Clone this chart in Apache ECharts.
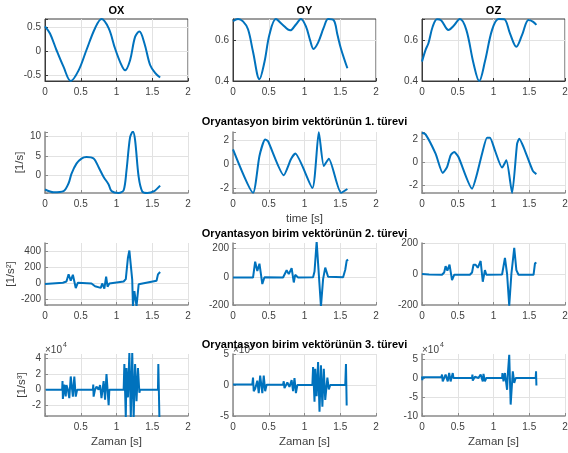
<!DOCTYPE html>
<html>
<head>
<meta charset="utf-8">
<script src="https://cdn.jsdelivr.net/npm/echarts/dist/echarts.min.js"></script>
<style>
  html, body { margin: 0; padding: 0; background: #fff; }
  #chart { width: 568px; height: 453px; }
</style>
</head>
<body>
<div id="chart"></div>
<script>
// birim vektör bileşenleri (t [s], değer)
const oxPos = [[0,0.52],[0.07,0.37],[0.16,0.03],[0.26,-0.32],[0.36,-0.61],[0.47,-0.39],[0.58,0.03],[0.70,0.48],[0.79,0.67],[0.89,0.48],[0.98,0.06],[1.06,-0.25],[1.12,-0.39],[1.19,-0.18],[1.26,0.30],[1.32,0.41],[1.39,0.17],[1.47,-0.28],[1.54,-0.44],[1.61,-0.54]];
const oyPos = [[0,0.696],[0.07,0.707],[0.14,0.695],[0.21,0.656],[0.28,0.545],[0.37,0.409],[0.44,0.494],[0.51,0.63],[0.60,0.707],[0.69,0.68],[0.80,0.651],[0.88,0.68],[0.95,0.707],[1.02,0.67],[1.08,0.60],[1.125,0.559],[1.19,0.59],[1.27,0.665],[1.33,0.707],[1.41,0.70],[1.46,0.63],[1.51,0.56],[1.60,0.463]];
const ozPos = [[0,0.496],[0.05,0.554],[0.09,0.587],[0.15,0.67],[0.21,0.706],[0.27,0.70],[0.37,0.653],[0.44,0.672],[0.53,0.707],[0.62,0.653],[0.72,0.488],[0.80,0.40],[0.88,0.496],[0.98,0.653],[1.07,0.707],[1.15,0.706],[1.23,0.636],[1.32,0.57],[1.40,0.628],[1.49,0.702],[1.55,0.694],[1.60,0.678]];

// 1. türev [1/s]
const ox1 = [[0,-3.6],[0.12,-4.3],[0.26,-4.0],[0.33,-2],[0.37,0.4],[0.44,3],[0.51,4.3],[0.58,4.7],[0.68,4.3],[0.75,2.1],[0.82,-0.4],[0.89,-2.3],[0.93,-4],[1.03,-4.5],[1.10,-3.8],[1.14,1.3],[1.19,9.8],[1.23,11.2],[1.26,9],[1.31,-0.4],[1.36,-4.1],[1.43,-4.5],[1.52,-4.1],[1.61,-2.6]];
const oy1 = [[0,1.25],[0.28,-2.4],[0.37,0.7],[0.45,2.08],[0.49,1.94],[0.71,-0.92],[0.81,0.42],[0.87,0.9],[1.11,-2.0],[1.20,2.7],[1.27,-0.14],[1.34,0.47],[1.51,-2.4],[1.60,-2.08]];
const oz1 = [[0,2.6],[0.05,2.46],[0.19,0.78],[0.29,-0.9],[0.35,-0.38],[0.40,0.64],[0.45,0.93],[0.51,0.49],[0.70,-2.26],[0.77,-0.96],[0.84,0.78],[0.91,2.17],[0.95,2.17],[1.02,1.07],[1.12,-0.43],[1.18,0.2],[1.26,-2.64],[1.33,1.65],[1.36,2.09],[1.42,1.36],[1.55,-0.72],[1.60,-1.0]];

// 2. türev [1/s^2]
const ox2 = [[0,-10],[0.25,5],[0.30,20],[0.33,112],[0.36,30],[0.39,105],[0.43,-62],[0.46,5],[0.65,-5],[0.70,-40],[0.72,-60],[0.78,-60],[0.80,-5],[0.83,-70],[0.855,80],[0.875,-45],[0.90,-5],[1.10,20],[1.13,50],[1.16,320],[1.18,410],[1.20,400],[1.22,40],[1.23,-290],[1.25,-100],[1.28,-290],[1.31,-15],[1.56,30],[1.58,110],[1.61,140]];
const oy2 = [[0,-5],[0.28,-5],[0.31,107],[0.34,42],[0.37,93],[0.41,-51],[0.44,-3],[0.70,-5],[0.75,47],[0.78,19],[0.82,61],[0.85,-40],[0.87,14],[0.91,-5],[1.12,-3],[1.14,37],[1.17,250],[1.20,19],[1.23,-210],[1.26,-16],[1.29,65],[1.33,0],[1.54,-3],[1.57,50],[1.59,115],[1.61,122]];
const oz2 = [[0,0],[0.1,-3],[0.28,-5],[0.31,10],[0.33,50],[0.355,22],[0.385,60],[0.42,-40],[0.45,-5],[0.67,-5],[0.70,10],[0.72,60],[0.75,60],[0.78,40],[0.82,84],[0.85,-50],[0.88,25],[0.90,-5],[1.12,-3],[1.16,104],[1.19,0],[1.22,-205],[1.25,0],[1.29,168],[1.32,25],[1.35,-5],[1.56,-5],[1.58,68],[1.60,74]];

// 3. türev [1/s^3], x10^4
const ox3 = [[0.01,0],[0.24,0],[0.245,1.1],[0.25,-1.2],[0.27,0.65],[0.29,-0.87],[0.30,0.6],[0.32,0],[0.34,-1.1],[0.36,1.7],[0.39,-0.9],[0.41,1.7],[0.43,-0.9],[0.45,0],[0.67,0],[0.675,0.65],[0.68,-0.9],[0.70,0],[0.72,0.4],[0.75,0],[0.77,0.6],[0.79,-1.1],[0.82,1.1],[0.84,-1.3],[0.86,2],[0.89,-2],[0.90,0],[1.10,0],[1.11,3.3],[1.13,-3.6],[1.14,2.8],[1.16,-1],[1.18,4.8],[1.20,-3.6],[1.22,4.8],[1.24,-3.6],[1.26,3.3],[1.28,-1.5],[1.30,2.8],[1.32,-0.4],[1.33,0],[1.58,0],[1.585,3.3],[1.60,-3.6]];
const oy3 = [[0,0.1],[0.27,0.1],[0.28,1.2],[0.29,-1],[0.31,-0.6],[0.34,0.7],[0.36,-1.3],[0.38,1.5],[0.41,-1.3],[0.43,1.5],[0.45,-1],[0.47,0.05],[0.70,0.05],[0.71,0.6],[0.72,-0.5],[0.76,0.4],[0.79,-0.3],[0.82,0.8],[0.84,-1],[0.86,1.1],[0.88,-1.3],[0.90,0],[1.11,0],[1.12,2.9],[1.14,-2.7],[1.15,2.6],[1.17,-1.8],[1.19,3.7],[1.21,-4.3],[1.23,3.2],[1.25,-3.5],[1.27,2.6],[1.29,-2.4],[1.32,1.2],[1.34,-0.7],[1.36,0],[1.57,0],[1.58,3.4],[1.59,-3.3]];
const oz3 = [[0,0.4],[0.005,-0.6],[0.01,0.2],[0.27,0.2],[0.28,0.9],[0.29,-0.9],[0.31,-1.3],[0.33,0.9],[0.36,-0.9],[0.38,1.3],[0.40,-0.9],[0.43,1.3],[0.44,0],[0.70,0],[0.705,0.9],[0.71,-0.7],[0.74,0.3],[0.79,0],[0.82,0.9],[0.85,-0.9],[0.86,1.05],[0.88,-0.9],[0.90,0],[1.12,0],[1.125,1.3],[1.14,-0.9],[1.16,1.3],[1.19,-3.1],[1.20,0.9],[1.22,6.1],[1.24,-7],[1.27,1.75],[1.29,-1.3],[1.31,0],[1.59,0],[1.595,1.75],[1.60,-2]];

const colTitles = ['OX', 'OY', 'OZ'];
const rowTitles = ['Oryantasyon birim vektörünün 1. türevi', 'Oryantasyon birim vektörünün 2. türevi', 'Oryantasyon birim vektörünün 3. türevi'];

const panels = [
  {data: oxPos, min: -0.61, max: 0.67, step: 0.5, smooth: 0.35},
  {data: oyPos, min: 0.4, max: 0.707, step: 0.2, smooth: 0.35},
  {data: ozPos, min: 0.4, max: 0.707, step: 0.2, smooth: 0.35},
  {data: ox1, min: -4.5, max: 11.1, step: 5, smooth: 0.3, yName: '[1/s]', yGap: 13},
  {data: oy1, min: -2.42, max: 2.72, step: 2, smooth: 0.2, xName: 'time [s]'},
  {data: oz1, min: -2.64, max: 2.67, step: 2, smooth: 0.2},
  {data: ox2, min: -276, max: 505, step: 200, yName: '[1/s²]', yGap: 25},
  {data: oy2, min: -200, max: 240, step: 200},
  {data: oz2, min: -200, max: 200, step: 200},
  {data: ox3, min: -3.4, max: 4.6, step: 2, yName: '[1/s³]', yGap: 12, xName: 'Zaman [s]', hideZero: true},
  {data: oy3, min: -5, max: 5, step: 5, xName: 'Zaman [s]'},
  {data: oz3, min: -10, max: 6.3, step: 5, xName: 'Zaman [s]'}
];

const colLeft = [45, 233, 422];
const rowTop = [19, 132, 243, 354];
const rowH = [62, 61, 62, 62];
const boxW = 143;

const lineColor = '#0072BD';
const labelColor = '#404040';
const fmt = v => String(Math.round(v * 1000) / 1000);
const onStep = (v, s) => Math.abs(v / s - Math.round(v / s)) < 1e-6;

const chart = echarts.init(document.getElementById('chart'), null, {renderer: 'canvas'});

const grid = [], xAxis = [], yAxis = [], series = [];
panels.forEach((p, i) => {
  const r = Math.floor(i / 3), c = i % 3;
  const boxed = r === 0;
  const axisCol = boxed ? '#3a3a3a' : '#8a8a8a';
  grid.push({
    left: colLeft[c], top: rowTop[r], width: boxW, height: rowH[r],
    show: boxed, borderColor: '#3a3a3a', borderWidth: 1,
    containLabel: false, outerBoundsMode: 'none'
  });
  xAxis.push({
    type: 'value', gridIndex: i, min: 0, max: 2, interval: 0.5,
    name: p.xName || '', nameLocation: 'middle', nameGap: 20,
    nameTextStyle: {fontFamily: 'Liberation Sans', fontSize: 11.5, color: labelColor},
    axisLine: {show: true, onZero: false, lineStyle: {color: axisCol, width: boxed ? 1 : 1.5}},
    axisTick: {show: true, inside: true, length: 3, lineStyle: {color: axisCol}},
    axisLabel: {
      fontFamily: 'Liberation Sans', fontSize: 10, color: labelColor, margin: 6,
      formatter: v => (p.hideZero && v === 0) ? '' : fmt(v)
    },
    splitLine: {show: true, lineStyle: {color: '#e2e2e2', width: 1}}
  });
  yAxis.push({
    type: 'value', gridIndex: i, min: p.min, max: p.max,
    splitNumber: 3, minInterval: p.step, maxInterval: p.step,
    name: p.yName || '', nameLocation: 'middle', nameRotate: 90, nameGap: p.yGap || 15,
    nameTextStyle: {fontFamily: 'Liberation Sans', fontSize: 11.5, color: labelColor},
    axisLine: {show: true, onZero: false, lineStyle: {color: axisCol, width: boxed ? 1 : 1.5}},
    axisTick: {show: true, inside: true, length: 3, lineStyle: {color: axisCol}},
    axisLabel: {
      fontFamily: 'Liberation Sans', fontSize: 10, color: labelColor, margin: 4,
      showMinLabel: true, showMaxLabel: true,
      formatter: v => onStep(v, p.step) ? fmt(v) : ''
    },
    splitLine: {
      show: true, showMinLine: false, showMaxLine: onStep(p.max, p.step),
      lineStyle: {color: '#e2e2e2', width: 1}
    }
  });
  series.push({
    type: 'line', xAxisIndex: i, yAxisIndex: i, data: p.data,
    showSymbol: false, smooth: p.smooth || false, clip: true, silent: true,
    lineStyle: {color: lineColor, width: 2}, itemStyle: {color: lineColor}
  });
});

const titleFont = 'bold 11px "Liberation Sans", Arial, sans-serif';
const graphic = [];
colTitles.forEach((t, c) => {
  graphic.push({type: 'text', x: colLeft[c] + boxW / 2, y: 11,
    style: {text: t, font: titleFont, fill: '#000', align: 'center', verticalAlign: 'middle'}});
});
const rowTitleY = [122, 234, 345];
rowTitles.forEach((t, k) => {
  graphic.push({type: 'text', x: colLeft[1] + boxW / 2, y: rowTitleY[k], z: 10,
    style: {text: t, font: titleFont, fill: '#000', align: 'center', verticalAlign: 'middle'}});
});
// x10^4 üs etiketleri
colLeft.forEach(x => {
  graphic.push({type: 'text', x: x, y: 350,
    style: {text: '×10', font: '10px "Liberation Sans", Arial, sans-serif', fill: labelColor, align: 'left', verticalAlign: 'middle'}});
  graphic.push({type: 'text', x: x + 18, y: 345,
    style: {text: '4', font: '7px "Liberation Sans", Arial, sans-serif', fill: labelColor, align: 'left', verticalAlign: 'middle'}});
});

chart.setOption({
  animation: false,
  backgroundColor: '#fff',
  grid: grid,
  xAxis: xAxis,
  yAxis: yAxis,
  series: series,
  graphic: graphic
});
</script>
</body>
</html>
